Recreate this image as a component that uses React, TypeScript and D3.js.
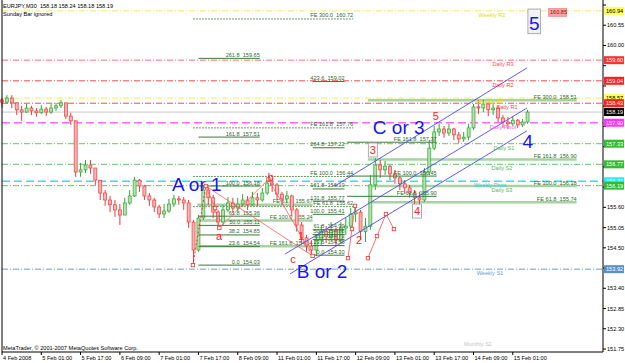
import React from "react";
import * as d3 from "d3";

// ---------- price data: 2-hour candles (index k -> M30 bar 4k) ----------
const firstOpen = 158.52;
const closes = [
  158.46, 158.57, 158.44, 158.25, 158.19, 158.30, 158.22, 158.17, 158.27, 158.19,
  158.30, 158.36, 158.44, 158.08, 157.95, 156.56, 156.62, 156.75, 156.67, 156.34,
  155.99, 155.80, 155.67, 155.53, 155.39, 155.72, 155.91, 156.34, 156.18, 155.91,
  155.80, 155.61, 155.42, 155.50, 155.69, 155.83, 155.80, 155.72, 155.20, 154.44,
  155.31, 156.07, 155.86, 155.47, 155.20, 155.53, 155.72, 155.58, 155.69, 155.80,
  155.67, 155.86, 155.80, 155.99, 156.26, 156.21, 155.96, 155.83, 155.91, 155.53,
  155.12, 154.77, 154.55, 154.44, 154.71, 154.94, 154.80, 154.99, 154.71, 155.04,
  155.09, 155.42, 155.47, 154.94, 155.09, 156.21, 156.75, 156.62, 156.72, 156.51,
  156.40, 156.24, 156.13, 155.99, 155.86, 155.80, 156.56, 157.21, 157.65, 157.73,
  157.62, 157.73, 157.57, 157.46, 157.51, 157.76, 158.33, 158.30, 158.41, 158.25,
  158.30, 158.03, 157.92, 157.87, 157.97, 157.84, 157.92, 158.19,
];
const highs = [
  158.57, 158.65, 158.65, 158.44, 158.36, 158.41, 158.36, 158.30, 158.38, 158.33,
  158.41, 158.44, 158.52, 158.38, 158.17, 157.97, 156.81, 156.89, 156.89, 156.67,
  156.34, 156.07, 155.91, 155.80, 155.69, 155.86, 156.07, 156.43, 156.37, 156.21,
  155.99, 155.86, 155.67, 155.69, 155.83, 155.94, 155.91, 155.88, 155.80, 155.26,
  155.39, 156.18, 156.15, 155.94, 155.53, 155.67, 155.88, 155.86, 155.86, 155.96,
  155.91, 156.02, 155.99, 156.13, 156.37, 156.40, 156.26, 156.02, 156.05, 155.94,
  155.58, 155.20, 154.85, 154.71, 154.85, 155.12, 155.09, 155.20, 155.04, 155.20,
  155.31, 155.58, 155.67, 155.53, 155.31, 156.48, 156.94, 156.89, 156.86, 156.75,
  156.62, 156.45, 156.34, 156.21, 156.07, 156.02, 156.67, 157.43, 157.81, 157.87,
  157.81, 157.87, 157.76, 157.65, 157.65, 157.87, 158.41, 158.52, 158.52, 158.44,
  158.46, 158.36, 158.11, 158.06, 158.08, 158.00, 158.00, 158.25,
];
const lows = [
  158.30, 158.41, 158.30, 158.11, 157.95, 158.17, 158.11, 158.06, 158.14, 158.08,
  158.14, 158.22, 158.30, 158.00, 157.84, 156.43, 156.43, 156.53, 156.51, 156.21,
  155.80, 155.64, 155.47, 155.34, 155.12, 155.39, 155.67, 155.88, 156.02, 155.80,
  155.64, 155.47, 155.31, 155.31, 155.45, 155.61, 155.67, 155.53, 155.04, 154.03,
  154.39, 155.26, 155.67, 155.31, 155.04, 155.12, 155.47, 155.45, 155.50, 155.61,
  155.53, 155.64, 155.64, 155.75, 155.94, 156.02, 155.80, 155.67, 155.72, 155.36,
  154.94, 154.61, 154.39, 154.28, 154.28, 154.58, 154.63, 154.71, 154.55, 154.61,
  154.85, 154.99, 155.20, 154.71, 154.66, 154.99, 156.07, 156.40, 156.48, 156.34,
  156.24, 156.07, 155.96, 155.86, 155.69, 155.61, 155.75, 156.48, 157.16, 157.54,
  157.49, 157.54, 157.43, 157.35, 157.38, 157.43, 157.70, 158.14, 158.19, 158.08,
  158.11, 157.92, 157.76, 157.73, 157.81, 157.76, 157.78, 157.87,
];

// ---------- axes ----------
const timeLabels = [
  "4 Feb 2008", "5 Feb 01:00", "5 Feb 17:00", "6 Feb 09:00", "7 Feb 01:00", "7 Feb 17:00",
  "8 Feb 09:00", "11 Feb 01:00", "11 Feb 17:00", "12 Feb 09:00", "13 Feb 01:00",
  "13 Feb 17:00", "14 Feb 09:00", "15 Feb 01:00",
];
const priceTicks = [
  161.10, 160.55, 160.00, 159.45, 158.90, 158.35, 157.80, 157.25, 156.70, 156.15,
  155.60, 155.05, 154.50, 153.95, 153.40, 152.85, 152.30, 151.75,
];

// ---------- pivot levels ----------
const pivotNames = [
  "Weekly R2", "Daily R3", "Daily R2", "Weekly R1", "Daily R1", "Daily Pivot",
  "Daily S1", "Daily S2", "Weekly Pivot", "Daily S3", "Weekly S1",
];
const pivotPrices = [160.94, 159.60, 159.04, 158.57, 158.43, 157.90, 157.33, 156.77, 156.31, 156.19, 153.92];
const monthlyS1 = 151.99;
const currentPrice = 158.19;

// ---------- fibonacci retracements / expansions ----------
const fib1Levels = ["0.0", "23.6", "38.2", "50.0", "61.8", "100.0", "161.8", "261.8"];
const fib1Prices = [154.03, 154.54, 154.85, 155.11, 155.36, 156.18, 157.51, 159.65];
const fib2Levels = ["0.0", "23.6", "38.2", "50.0", "61.8", "100.0", "131.8", "161.8", "264.8", "423.6"];
const fib2Prices = [154.30, 154.56, 154.73, 154.86, 154.99, 155.41, 155.77, 156.10, 157.22, 159.02];
const fe1Levels = ["FE 61.8", "FE 100.0", "FE 161.8", "FE 300.0"];
const fe1Prices = [155.62, 156.44, 157.76, 160.72];
const fe2Levels = ["FE 61.8", "FE 100.0", "FE 161.8"];
const fe2Prices = [155.67, 155.24, 154.54];
const fe3Levels = ["FE 61.8", "FE 100.0", "FE 161.8", "FE 300.0"];
const fe3Prices = [155.74, 156.18, 156.90, 158.51];
const fe4Levels = ["FE 61.8", "FE 100.0", "FE 161.8"];
const fe4Prices = [155.90, 156.45, 157.37];

// ---------- wave drawings (bar index, price) ----------
const abcBars = [166, 173.5, 177, 217, 253];
const abcPrices = [156.18, 155.58, 155.04, 156.36, 154.28];
const fibBaseBars = [155.5, 166];
const fibBasePrices = [154.03, 156.18];
const zig1Bars = [281.8, 285, 287.5];
const zig1Prices = [154.22, 155.01, 155.64];
const zig2Bars = [298, 305.4, 312.7, 319.2];
const zig2Prices = [154.22, 154.82, 155.42, 155.01];
const channelBars = [[271, 427.5], [230.5, 427.5], [234.5, 427.5]];
const channelPrices = [[156.18, 159.39], [154.33, 158.30], [153.79, 157.68]];

const bigLabels = ["A or 1", "C or 3", "B or 2", "4"];
const bigBars = [138.4, 302, 240, 424];
const bigPrices = [156.05, 157.59, 153.68, 157.21];
const redLabels = ["a", "b", "c", "1", "2", "3", "4", "5"];
const redBars = [176.7, 219, 237, 243.5, 290.7, 302, 338, 353.4];
const redPrices = [154.71, 156.32, 154.09, 154.71, 154.61, 157.05, 155.39, 157.97];

const pivotStyle: Record<string, any> = {
  "Weekly R2": { c: "#eeee55", w: 1, dash: "6,2,1,2", tc: "#e0e000", box: "#ffff55", bt: "#000", lx: 492 },
  "Daily R3": { c: "#ffa0a0", w: 1.5, dash: "6,2,1,2", tc: "#ff5050", box: "#ff3030", bt: "#fff", lx: 503 },
  "Daily R2": { c: "#ff4a4a", w: 1, dash: "6,2,1,2", tc: "#ff4040", box: "#ff2020", bt: "#fff", lx: 503 },
  "Weekly R1": { c: "#eeee55", w: 1, dash: "6,2,1,2", tc: "#e0e000", box: "#ffff55", bt: "#000", lx: 490 },
  "Daily R1": { c: "#ff4a4a", w: 1, dash: "6,2,1,2", tc: "#ff4040", box: "#ff2020", bt: "#fff", lx: 507 },
  "Daily Pivot": { c: "#ff66ff", w: 1.5, dash: "8,4", tc: "#ff55ff", box: "#ff33ff", bt: "#fff", lx: 503 },
  "Daily S1": { c: "#66c466", w: 1, dash: "6,2,1,2", tc: "#55bb55", box: "#33bb33", bt: "#fff", lx: 504 },
  "Daily S2": { c: "#66c466", w: 1, dash: "6,2,1,2", tc: "#55bb55", box: "#33bb33", bt: "#fff", lx: 502 },
  "Weekly Pivot": { c: "#33e0f0", w: 1.5, dash: "8,4", tc: "#22ccdd", box: "#22eeff", bt: "#fff", lx: 490 },
  "Daily S3": { c: "#66c466", w: 1, dash: "6,2,1,2", tc: "#55bb55", box: "#33bb33", bt: "#fff", lx: 502 },
  "Weekly S1": { c: "#6a9fd0", w: 1, dash: "6,2,1,2", tc: "#6a9fd0", box: "#5b8fc8", bt: "#fff", lx: 490 },
};

const FONT = "'Liberation Sans', Arial, sans-serif";
const FS = 5.6;

export default function App() {
  const x = d3.scaleLinear().domain([0, 416]).range([2, 512.8]);
  const y = d3.scaleLinear().domain([151.75, 161.1]).range([349, 5]);
  const plotL = 2, plotR = 603, plotB = 352;

  const fibGroup = (levels: string[], prices: number[], t0: number, t1: number, st: any, key: string, tc = "#2e6b2e") =>
    levels.map((lab, i) => {
      const yy = y(prices[i]);
      return (
        <g key={key + i}>
          <line x1={x(t0)} x2={x(t1)} y1={yy} y2={yy} {...st} />
          <text x={x(t1)} y={yy - 1.5} textAnchor="end" fontSize={FS} fill={tc} style={{ whiteSpace: "pre" }}>
            {lab + "  " + prices[i].toFixed(2)}
          </text>
        </g>
      );
    });

  const line = d3.line<[number, number]>().x((d) => x(d[0])).y((d) => y(d[1]));
  const pts = (bars: number[], prices: number[]) => bars.map((b, i) => [b, prices[i]] as [number, number]);

  const boxPrices = [...pivotPrices, currentPrice];
  const visibleTicks = priceTicks.filter((p) => boxPrices.every((b) => Math.abs(y(p) - y(b)) >= 6.5));

  return (
    <svg width={625} height={363} style={{ position: "absolute", left: 0, top: 0, background: "#fff" }} fontFamily={FONT}>
      <rect x={0} y={0} width={625} height={363} fill="#fff" />

      {/* pivot lines */}
      {pivotNames.map((n, i) => {
        const s = pivotStyle[n];
        const yy = y(pivotPrices[i]);
        return <line key={"pl" + i} x1={plotL} x2={plotR} y1={yy} y2={yy} stroke={s.c} strokeWidth={s.w} strokeDasharray={s.dash} />;
      })}
      <line x1={plotL} x2={plotR} y1={y(currentPrice)} y2={y(currentPrice)} stroke="#c8c8c8" strokeWidth={1} />

      {/* thick pale FE lines */}
      {fibGroup(fe2Levels, fe2Prices, 159, 253, { stroke: "#a9d2a3", strokeWidth: 2.5 }, "fe2")}
      {fibGroup(fe3Levels, fe3Prices, 298, 468, { stroke: "#a9d2a3", strokeWidth: 2.5 }, "fe3")}

      {/* candles */}
      {closes.map((c, i) => {
        const o = i === 0 ? firstOpen : closes[i - 1];
        const up = c >= o;
        const cx = x(i * 4);
        const yHi = Math.min(y(highs[i]), y(o), y(c));
        const yLo = Math.max(y(lows[i]), y(o), y(c));
        const top = y(Math.max(o, c));
        const h = Math.max(1, Math.abs(y(o) - y(c)));
        const col = up ? "#2ea82e" : "#f03a3a";
        return (
          <g key={"c" + i}>
            <line x1={cx} x2={cx} y1={yHi} y2={yLo} stroke={col} strokeWidth={1} />
            <rect x={cx - 1.5} y={top} width={3} height={h} fill={up ? "#b7e0b0" : "#f8b4b4"} stroke={col} strokeWidth={0.7} />
          </g>
        );
      })}

      {/* fib retracements and expansions */}
      {fibGroup(fib1Levels, fib1Prices, 160, 210, { stroke: "#3a7a3a", strokeWidth: 1 }, "f1")}
      {fibGroup(fib2Levels, fib2Prices, 253, 279, { stroke: "#3a7a3a", strokeWidth: 1 }, "f2")}
      {fibGroup(fe1Levels, fe1Prices, 155.5, 286, { stroke: "#6a956a", strokeWidth: 1, strokeDasharray: "2,1" }, "fe1")}
      {fibGroup(fe4Levels, fe4Prices, 281, 354, { stroke: "#3a7a3a", strokeWidth: 1 }, "fe4")}

      {/* blue channel */}
      {channelBars.map((b, i) => (
        <path key={"ch" + i} d={line(pts(b, channelPrices[i])) || ""} stroke="#4848ff" strokeWidth={0.9} fill="none" />
      ))}

      {/* red wave drawings */}
      <path d={line(pts(fibBaseBars, fibBasePrices)) || ""} stroke="#ff3030" strokeWidth={1} strokeDasharray="2,2" fill="none" />
      <path d={line(pts(abcBars, abcPrices)) || ""} stroke="#ff5a5a" strokeWidth={0.8} fill="none" />
      <path d={line(pts([abcBars[0], abcBars[4]], [abcPrices[0], abcPrices[4]])) || ""} stroke="#ff5a5a" strokeWidth={0.8} fill="none" />
      <path d={line(pts(zig1Bars, zig1Prices)) || ""} stroke="#ff4a4a" strokeWidth={0.8} fill="none" />
      <path d={line(pts(zig2Bars, zig2Prices)) || ""} stroke="#ff4a4a" strokeWidth={0.8} fill="none" />
      {[...pts(abcBars, abcPrices), ...pts(zig1Bars, zig1Prices), ...pts(zig2Bars, zig2Prices), [fibBaseBars[0], fibBasePrices[0]] as [number, number]].map((p, i) => (
        <rect key={"m" + i} x={x(p[0]) - 1.7} y={y(p[1]) - 1.7} width={3.4} height={3.4} fill="#fff" stroke="#ff3030" strokeWidth={0.8} />
      ))}

      {/* red wave labels */}
      {redLabels.map((l, i) => {
        const cx = x(redBars[i]);
        const by = y(redPrices[i]);
        const boxed = i === 5 || i === 6;
        return (
          <g key={"rl" + i}>
            {boxed && <rect x={cx - 4.5} y={by - 11} width={9} height={14} fill="#fff" stroke="#999" strokeWidth={0.8} />}
            <text x={cx} y={by} textAnchor="middle" fontSize={11} fill="#ff2020">{l}</text>
          </g>
        );
      })}

      {/* big blue labels */}
      {bigLabels.map((l, i) => (
        <text key={"bl" + i} x={x(bigBars[i])} y={y(bigPrices[i])} fontSize={19} fill="#1414ff">{l}</text>
      ))}
      <rect x={x(428.3)} y={y(160.99)} width={x(438.5) - x(428.3)} height={y(160.32) - y(160.99)} fill="#f2f2f2" stroke="#9a9a9a" strokeWidth={0.8} />
      <text x={(x(428.3) + x(438.5)) / 2} y={y(160.42)} textAnchor="middle" fontSize={19} fill="#1414ff">5</text>
      <rect x={x(445)} y={y(160.98) - 1} width={x(460) - x(445)} height={8} fill="#f4a4a4" stroke="#e07070" strokeWidth={0.5} />
      <text x={x(445) + 1.5} y={y(160.98) + 5} fontSize={FS} fill="#a01010">160.85</text>

      {/* pivot labels */}
      {pivotNames.map((n, i) => {
        const s = pivotStyle[n];
        return (
          <text key={"plab" + i} x={s.lx} y={y(pivotPrices[i]) + 6} textAnchor="middle" fontSize={FS} fill={s.tc}>{n}</text>
        );
      })}
      <text x={478} y={y(monthlyS1) + 6} textAnchor="middle" fontSize={FS} fill="#c4c4c4">Monthly S1</text>

      {/* header / footer text */}
      <text x={3} y={8} fontSize={FS} fill="#000" style={{ whiteSpace: "pre" }}>EURJPY,M30  158.18 158.24 158.18 158.19</text>
      <text x={3} y={16} fontSize={FS} fill="#000">Sunday Bar ignored</text>
      <text x={3} y={349.5} fontSize={FS} fill="#000">MetaTrader, © 2001-2007 MetaQuotes Software Corp.</text>

      {/* frame */}
      <line x1={plotL} x2={plotL} y1={0} y2={plotB} stroke="#000" />
      <line x1={plotL} x2={plotR} y1={plotB} y2={plotB} stroke="#000" />
      <line x1={plotR} x2={plotR} y1={0} y2={plotB} stroke="#000" />

      {/* price axis */}
      {priceTicks.map((p, i) => (
        <line key={"ptm" + i} x1={plotR} x2={plotR + 3} y1={y(p)} y2={y(p)} stroke="#000" />
      ))}
      {visibleTicks.map((p, i) => (
        <text key={"pt" + i} x={607} y={y(p) + 2} fontSize={FS} fill="#000">{p.toFixed(2)}</text>
      ))}
      {pivotNames.map((n, i) => {
        const s = pivotStyle[n];
        const yy = y(pivotPrices[i]);
        return (
          <g key={"pb" + i}>
            <rect x={604} y={yy - 4} width={20} height={8} fill={s.box} />
            <text x={606} y={yy + 2} fontSize={FS} fill={s.bt}>{pivotPrices[i].toFixed(2)}</text>
          </g>
        );
      })}
      <rect x={604} y={y(currentPrice) - 4} width={20} height={8} fill="#000" />
      <text x={606} y={y(currentPrice) + 2} fontSize={FS} fill="#fff">{currentPrice.toFixed(2)}</text>

      {/* time axis */}
      {timeLabels.map((l, i) => (
        <g key={"tl" + i}>
          <line x1={x(i * 32)} x2={x(i * 32)} y1={plotB} y2={plotB + 3} stroke="#000" />
          <text x={x(i * 32) + 1} y={360} fontSize={FS} fill="#000">{l}</text>
        </g>
      ))}
    </svg>
  );
}
